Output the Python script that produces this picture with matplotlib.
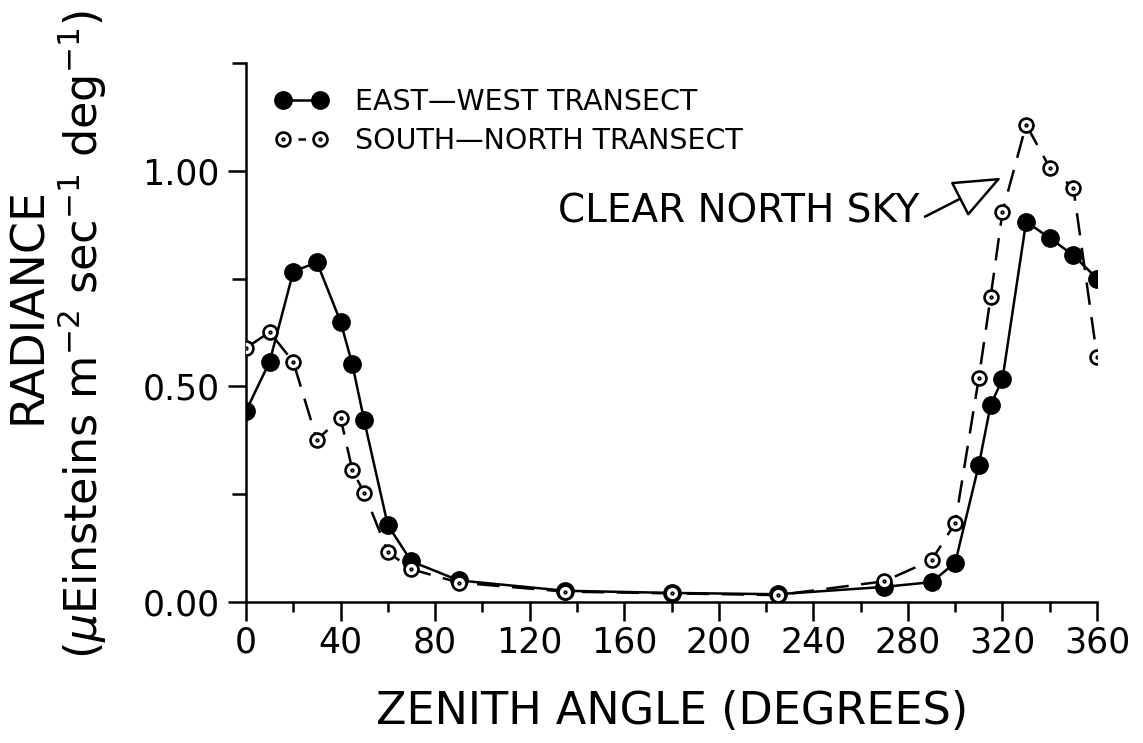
import matplotlib
matplotlib.use("Agg")
import matplotlib.pyplot as plt
from matplotlib.lines import Line2D
from matplotlib.path import Path
from matplotlib.ticker import MultipleLocator

plt.rcParams['font.family'] = ['DejaVu Sans']
plt.rcParams['mathtext.fontset'] = 'dejavusans'

# Zenith angle (degrees) and radiance for the two transects
angle_ew = [0, 10, 20, 30, 40, 45, 50, 60, 70, 90, 135, 180, 225, 270,
            290, 300, 310, 315, 320, 330, 340, 350, 360]
radiance_ew = [0.443, 0.557, 0.766, 0.788, 0.650, 0.551, 0.421, 0.178, 0.094,
               0.050, 0.026, 0.021, 0.018, 0.035, 0.046, 0.091, 0.318, 0.457,
               0.517, 0.882, 0.844, 0.804, 0.750]

angle_sn = [0, 10, 20, 30, 40, 45, 50, 60, 70, 90, 135, 180, 225, 270,
            290, 300, 310, 315, 320, 330, 340, 350, 360]
radiance_sn = [0.589, 0.626, 0.557, 0.376, 0.427, 0.306, 0.253, 0.116, 0.076,
               0.045, 0.024, 0.020, 0.016, 0.048, 0.097, 0.183, 0.520, 0.708,
               0.905, 1.107, 1.007, 0.960, 0.568]

x_ticks = list(range(0, 361, 40))
y_ticks = [0.00, 0.50, 1.00]
y_tick_labels = ["0.00", "0.50", "1.00"]

# open circle with a centre dot
dot_circle = Path.make_compound_path(Path.unit_circle(),
                                     Path.circle((0, 0), 0.12))

fig = plt.figure(figsize=(11.43, 7.43), dpi=100)
ax = fig.add_axes([0.2152, 0.1898, 0.7446, 0.7254])

lw = 1.8
ew_style = dict(color='black', lw=lw, marker='o', markersize=12.5,
                markerfacecolor='black', markeredgecolor='black')
sn_style = dict(color='black', lw=lw, marker=dot_circle, markersize=10,
                markerfacecolor='white', markeredgecolor='black',
                markeredgewidth=1.9)

ax.plot(angle_ew, radiance_ew, zorder=3, **ew_style)
ax.plot(angle_sn, radiance_sn, linestyle=(0, (9, 5)), zorder=4, **sn_style)

ax.set_xlim(0, 360)
ax.set_ylim(0, 1.25)

for side in ('top', 'right'):
    ax.spines[side].set_visible(False)
for side in ('left', 'bottom'):
    ax.spines[side].set_linewidth(1.8)

ax.set_xticks(x_ticks)
ax.set_xticklabels([str(v) for v in x_ticks])
ax.xaxis.set_minor_locator(MultipleLocator(20))
ax.set_yticks(y_ticks)
ax.set_yticklabels(y_tick_labels)
ax.yaxis.set_minor_locator(MultipleLocator(0.25))

ax.tick_params(axis='x', which='major', direction='out', length=14, width=1.8,
               labelsize=25, pad=3)
ax.tick_params(axis='x', which='minor', direction='out', length=7, width=1.8)
ax.tick_params(axis='y', which='major', direction='out', length=13, width=1.8,
               labelsize=25, pad=6)
ax.tick_params(axis='y', which='minor', direction='out', length=10, width=1.8)

ew_handle = Line2D([], [], **ew_style)
sn_handle = Line2D([], [], linestyle=(0, (3, 3)), **sn_style)
ax.legend([ew_handle, sn_handle],
          ["EAST\u2014WEST TRANSECT", "SOUTH\u2014NORTH TRANSECT"],
          numpoints=2, frameon=False, fontsize=20.5,
          loc='upper left', bbox_to_anchor=(0.240, 0.8816),
          bbox_transform=fig.transFigure,
          borderpad=0, borderaxespad=0, handlelength=1.9,
          handletextpad=0.93, labelspacing=0.4)

ax.annotate("CLEAR NORTH SKY", xy=(319.5, 0.984), xytext=(285, 0.905),
            ha='right', va='center', fontsize=28,
            arrowprops=dict(arrowstyle='-|>,head_length=1.1,head_width=0.45',
                            facecolor='white', edgecolor='black', lw=1.8,
                            relpos=(1.0, 0.3), shrinkA=2, shrinkB=0))

fig.text(672 / 1143, 1 - 712 / 743, "ZENITH ANGLE (DEGREES)",
         ha='center', va='center', fontsize=32)
fig.text(29 / 1143, 1 - 305 / 743, "RADIANCE",
         ha='center', va='center', rotation=90, fontsize=33)
fig.text(82 / 1143, 1 - 335 / 743,
         r"($\mu$Einsteins m$^{-2}$ sec$^{-1}$ deg$^{-1}$)",
         ha='center', va='center', rotation=90, fontsize=32)

fig.savefig("out.png", dpi=100)
